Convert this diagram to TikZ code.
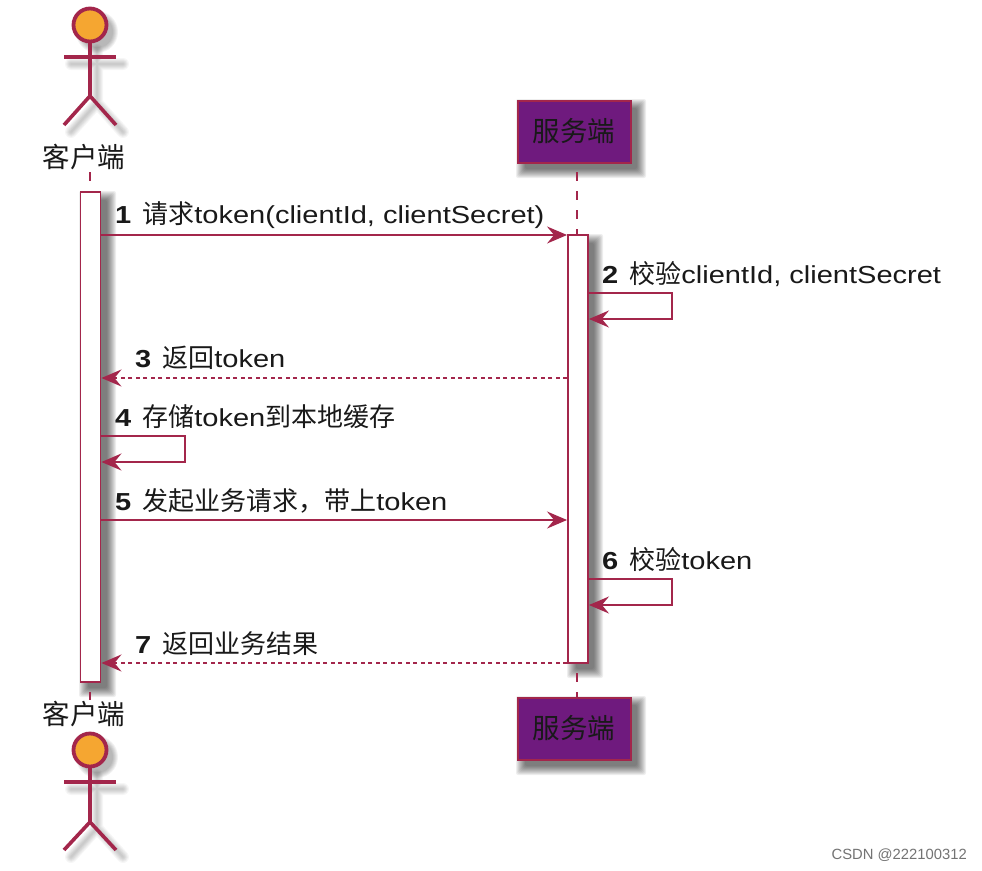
\documentclass[tikz,border=0pt]{standalone}
\usepackage{fontspec}
\setmainfont[FakeStretch=1.18]{Liberation Sans}
\newfontfamily\cjk{Noto Sans CJK SC}
\newfontfamily\markfont{Liberation Sans}
\usetikzlibrary{arrows.meta}
\definecolor{umlred}{HTML}{A3264B}
\definecolor{umlpurple}{HTML}{6F1A7E}
\definecolor{umlorange}{HTML}{F5A631}
\newcommand{\cn}[1]{{\cjk\fontsize{26}{28}\selectfont #1}}
\newcommand{\softshadow}[4]{%
  \foreach \g in {8,7,...,-1}{%
    \fill[black,opacity=0.065,rounded corners=2pt]
      ({#1+7-\g},{#2+7-\g}) rectangle ({#3+7+\g},{#4+7+\g});}}
\newcommand{\actorshadow}[1]{%
  \begin{scope}[shift={(7,#1+7)},black]
    \begin{scope}[shift={(90,0)},line cap=round]
    \foreach \w in {12,10,8,6,4,2}{%
      \draw[line width=\w pt,opacity=0.035] (0,18)--(0,71) (-26,32)--(26,32) (-26,100)--(0,71)--(26,100);
      \fill[opacity=0.05] (0,0) circle ({15+\w/2});}
    \end{scope}
  \end{scope}}
\tikzset{
  x=1pt,y=-1pt,
  msg/.style={font=\fontsize{24.6}{28}\selectfont,anchor=west,inner sep=0pt,text=black!90},
  actorname/.style={font=\cjk\fontsize{27.5}{32}\selectfont,inner sep=0pt,text=black!90},
  flow/.style={draw=umlred,line width=1.9pt,-{Stealth[length=20pt,width=17pt,inset=7pt]}},
  retflow/.style={flow,dash pattern=on 4pt off 3.5pt},
  life/.style={draw=umlred,line width=1.6pt,dash pattern=on 9pt off 10pt},
  bar/.style={draw=umlred,line width=1.9pt,fill=white,inner sep=0pt,minimum width=20pt},
  partbox/.style={draw=umlred,line width=2pt,fill=umlpurple,minimum width=113pt,minimum height=62pt,inner sep=0pt,font=\cjk\fontsize{27.5}{32}\selectfont,text=black!90},
  actorline/.style={draw=umlred,line width=3.6pt},
  actorhead/.style={circle,draw=umlred,line width=3.8pt,fill=umlorange,minimum size=33pt,inner sep=0pt},
}
\begin{document}
\begin{tikzpicture}
\useasboundingbox (0,0) rectangle (982,870);
\fill[white] (0,0) rectangle (982,870);
% shadows
\softshadow{517}{100}{631}{163}
\softshadow{517}{697}{631}{760}
\softshadow{80}{192}{101}{682}
\softshadow{568}{235}{588}{663}
\actorshadow{25}
\actorshadow{750}
% participants
\node[partbox] (srvtop) at (574,131.5) {服务端};
\node[partbox] (srvbot) at (574,728.5) {服务端};
% bars
\node[bar,minimum height=490pt] (lbar) at (90.5,437) {};
\node[bar,minimum height=428pt] (rbar) at (578,449) {};
% lifelines
\coordinate (lt) at (90,172);
\coordinate (lb) at (90,692);
\coordinate (lc) at (90,700);
\coordinate (rt) at (577,172);
\coordinate (rm) at (577,673);
\draw[life] (lt) -- (lbar.north -| lt);
\draw[life] (lb) -- (lc);
\draw[life] (rt) -- (rbar.north -| rt);
\draw[life] (rm) -- (srvbot.north -| rm);
% top actor
\node[actorhead] (h1) at (90,25) {};
\coordinate (b1) at (90,96);
\coordinate (al1) at (64,57); \coordinate (ar1) at (116,57);
\coordinate (ll1) at (64,125); \coordinate (lr1) at (116,125);
\draw[actorline] (h1) -- (b1);
\draw[actorline] (al1) -- (ar1);
\draw[actorline] (ll1) -- (b1) -- (lr1);
\node[actorname] (n1) at (84,157) {客户端};
% bottom actor
\node[actorname] (n2) at (84,714) {客户端};
\node[actorhead] (h2) at (90,750) {};
\coordinate (b2) at (90,822);
\coordinate (al2) at (64,782); \coordinate (ar2) at (116,782);
\coordinate (ll2) at (64,850); \coordinate (lr2) at (116,850);
\draw[actorline] (h2) -- (b2);
\draw[actorline] (al2) -- (ar2);
\draw[actorline] (ll2) -- (b2) -- (lr2);
% messages
\coordinate (y1) at (0,235);
\draw[flow] (lbar.east |- y1) -- (rbar.west |- y1);
\node[msg] (m1) at (115,215) {\textbf{1}\hspace{11pt}\cn{请求}token(clientId, clientSecret)};
\coordinate (y2a) at (672,293); \coordinate (y2b) at (672,319);
\draw[flow] (rbar.east |- y2a) -- (y2a) -- (y2b) -- (rbar.east |- y2b);
\node[msg] (m2) at (602,274) {\textbf{2}\hspace{11pt}\cn{校验}clientId, clientSecret};
\coordinate (y3) at (0,378);
\draw[retflow] (rbar.west |- y3) -- (lbar.east |- y3);
\node[msg] (m3) at (135,358) {\textbf{3}\hspace{11pt}\cn{返回}token};
\coordinate (y4a) at (185,436); \coordinate (y4b) at (185,462);
\draw[flow] (lbar.east |- y4a) -- (y4a) -- (y4b) -- (lbar.east |- y4b);
\node[msg] (m4) at (115,417) {\textbf{4}\hspace{11pt}\cn{存储}token\cn{到本地缓存}};
\coordinate (y5) at (0,520);
\draw[flow] (lbar.east |- y5) -- (rbar.west |- y5);
\node[msg] (m5) at (115,501) {\textbf{5}\hspace{11pt}\cn{发起业务请求，带上}token};
\coordinate (y6a) at (672,579); \coordinate (y6b) at (672,605);
\draw[flow] (rbar.east |- y6a) -- (y6a) -- (y6b) -- (rbar.east |- y6b);
\node[msg] (m6) at (602,560) {\textbf{6}\hspace{11pt}\cn{校验}token};
\coordinate (y7) at (0,663);
\draw[retflow] (rbar.west |- y7) -- (lbar.east |- y7);
\node[msg] (m7) at (135,644) {\textbf{7}\hspace{11pt}\cn{返回业务结果}};
% watermark
\node[anchor=east,inner sep=0pt,text=black!55,font=\markfont\fontsize{14.8}{16}\selectfont] (wm) at (967,855) {CSDN @222100312};
\end{tikzpicture}
\end{document}
